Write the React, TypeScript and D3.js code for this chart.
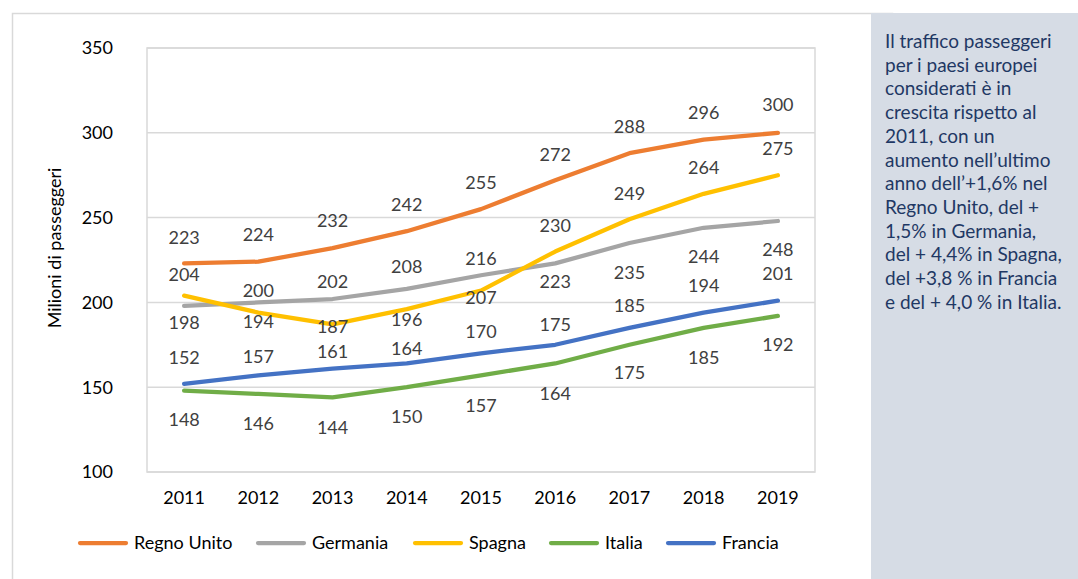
import * as d3 from "d3";

const years = ["2011", "2012", "2013", "2014", "2015", "2016", "2017", "2018", "2019"];

const regnoUnito = [223, 224, 232, 242, 255, 272, 288, 296, 300];
const germania = [198, 200, 202, 208, 216, 223, 235, 244, 248];
const spagna = [204, 194, 187, 196, 207, 230, 249, 264, 275];
const italia = [148, 146, 144, 150, 157, 164, 175, 185, 192];
const francia = [152, 157, 161, 164, 170, 175, 185, 194, 201];

const yTicks = [100, 150, 200, 250, 300, 350];

const noteLines = [
  "Il traffico passeggeri",
  "per i paesi europei",
  "considerati è in",
  "crescita rispetto al",
  "2011, con un",
  "aumento nell’ultimo",
  "anno dell’+1,6% nel",
  "Regno Unito, del +",
  "1,5% in Germania,",
  "del + 4,4% in Spagna,",
  "del +3,8 % in Francia",
  "e del + 4,0 % in Italia.",
];

// label placement, as in the original (pixels from the line, vertical)
const series = [
  { name: "Regno Unito", values: regnoUnito, color: "#ED7D31", dy: [-26, -27, -27, -26, -26, -26, -26, -27, -28] },
  { name: "Germania", values: germania, color: "#A5A5A5", dy: [17, -12, -17, -22, -17, 18, 30, 29, 29] },
  { name: "Spagna", values: spagna, color: "#FFC000", dy: [-21, 9, 2, 11, 7, -26, -26, -26, -27] },
  { name: "Italia", values: italia, color: "#70AD47", dy: [29, 30, 30, 29, 30, 30, 28, 30, 29] },
  { name: "Francia", values: francia, color: "#4472C4", dy: [-26, -19, -17, -15, -22, -20, -22, -27, -27] },
];

const legendX = [80, 258, 415, 551, 668];

const W = 1078;
const H = 579;
const plot = { left: 147, right: 815, top: 48, bottom: 472 };
const font = "Lato, 'Open Sans', sans-serif";
const fs = 18;

export default function App() {
  const x = d3
    .scaleBand<string>()
    .domain(years)
    .range([plot.left, plot.right]);
  const y = d3.scaleLinear().domain([100, 350]).range([plot.bottom, plot.top]);
  const cx = (d: string) => (x(d) as number) + x.bandwidth() / 2;

  const line = d3
    .line<number>()
    .x((_, i) => cx(years[i]))
    .y((v) => y(v));

  return (
    <svg
      width={W}
      height={H}
      style={{ position: "absolute", left: 0, top: 0, background: "#fff" }}
      fontFamily={font}
    >
      {/* chart frame */}
      <rect x={12.5} y={13.5} width={880} height={600} fill="#fff" stroke="#D9D9D9" strokeWidth={1.5} />

      {/* gridlines */}
      {yTicks.map((t) => (
        <line key={t} x1={plot.left} x2={plot.right} y1={y(t)} y2={y(t)} stroke="#D9D9D9" strokeWidth={1.5} />
      ))}
      <rect
        x={plot.left}
        y={plot.top}
        width={plot.right - plot.left}
        height={plot.bottom - plot.top}
        fill="none"
        stroke="#D9D9D9"
        strokeWidth={1.5}
      />

      {/* y axis */}
      {yTicks.map((t) => (
        <text key={t} x={113} y={y(t)} dy="0.35em" textAnchor="end" fontSize={fs} fill="#000">
          {t}
        </text>
      ))}
      <text
        transform={`translate(61,${(plot.top + plot.bottom) / 2 - 12}) rotate(-90)`}
        textAnchor="middle"
        fontSize={fs}
        fill="#000"
      >
        Milioni di passeggeri
      </text>

      {/* x axis */}
      {years.map((yr) => (
        <text key={yr} x={cx(yr)} y={498} dy="0.35em" textAnchor="middle" fontSize={fs} fill="#000">
          {yr}
        </text>
      ))}

      {/* lines */}
      {series.map((s) => (
        <path
          key={s.name}
          d={line(s.values) as string}
          fill="none"
          stroke={s.color}
          strokeWidth={4.25}
          strokeLinecap="round"
          strokeLinejoin="round"
        />
      ))}

      {/* data labels */}
      {series.map((s) =>
        s.values.map((v, i) => (
          <text
            key={s.name + i}
            x={cx(years[i])}
            y={y(v) + s.dy[i]}
            dy="0.35em"
            textAnchor="middle"
            fontSize={fs}
            fill="#404040"
          >
            {v}
          </text>
        ))
      )}

      {/* legend */}
      {series.map((s, i) => (
        <g key={s.name} transform={`translate(${legendX[i]},543)`}>
          <line x1={0} x2={46} y1={0} y2={0} stroke={s.color} strokeWidth={4.25} strokeLinecap="round" />
          <text x={54} y={0} dy="0.35em" fontSize={fs} fill="#000">
            {s.name}
          </text>
        </g>
      ))}

      {/* side note */}
      <rect x={871} y={13} width={W - 871} height={H - 13} fill="#D6DCE5" />
      <text fontSize={19} fill="#1F3864">
        {noteLines.map((l, i) => (
          <tspan key={i} x={885} y={48 + i * 23.7}>
            {l}
          </tspan>
        ))}
      </text>
    </svg>
  );
}
